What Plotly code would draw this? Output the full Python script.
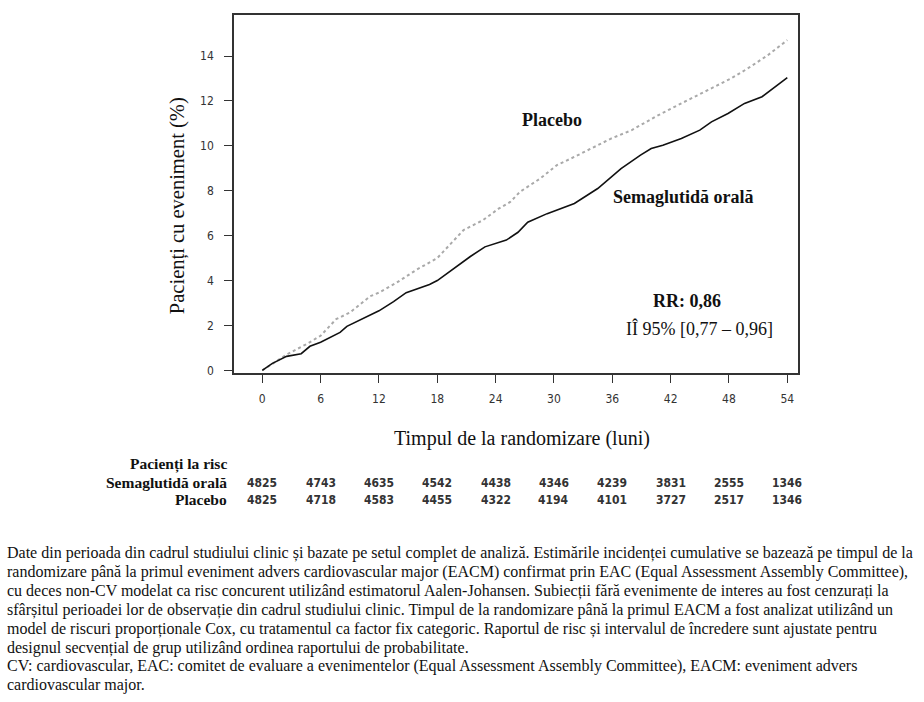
import plotly.graph_objects as go

# ---- data ----
sema_months = [0, 1, 2.5, 4, 4.9, 6, 8, 8.7, 12, 13.5, 14.8, 17.2, 18, 19.3, 21.4, 22.9, 24, 25.1,
               26.3, 27.3, 29.3, 32.1, 34.5, 36.9, 38.9, 40.0, 41.2, 43.1, 45.0, 46.2, 47.9, 49.6,
               51.4, 52.7, 54.0]
sema_pct = [0, 0.3, 0.62, 0.74, 1.07, 1.25, 1.69, 1.96, 2.65, 3.06, 3.46, 3.82, 4.0, 4.41, 5.07, 5.5,
            5.66, 5.8, 6.15, 6.6, 6.98, 7.43, 8.1, 8.99, 9.59, 9.88, 10.03, 10.33, 10.7, 11.07, 11.44,
            11.89, 12.19, 12.63, 13.04]
plac_months = [0, 2.5, 4.6, 6, 7.6, 9, 11.1, 12, 13.8, 15.9, 18, 19.3, 20.7, 22.7, 24.3, 25.5, 26.5,
               28.6, 30.3, 32.1, 33.8, 35.9, 38.0, 40.4, 42.4, 44.5, 46.5, 48.2, 49.9, 52.0, 54.0]
plac_pct = [0, 0.7, 1.18, 1.54, 2.28, 2.57, 3.3, 3.46, 3.9, 4.49, 5.0, 5.59, 6.25, 6.69, 7.2, 7.5,
            7.95, 8.55, 9.14, 9.51, 9.88, 10.33, 10.7, 11.29, 11.74, 12.19, 12.63, 13.0, 13.44, 14.04,
            14.71]

tick_months = [0, 6, 12, 18, 24, 30, 36, 42, 48, 54]
y_ticks = [0, 2, 4, 6, 8, 10, 12, 14]
risk_sema = [4825, 4743, 4635, 4542, 4438, 4346, 4239, 3831, 2555, 1346]
risk_plac = [4825, 4718, 4583, 4455, 4322, 4194, 4101, 3727, 2517, 1346]

footnote_lines = [
    "Date din perioada din cadrul studiului clinic și bazate pe setul complet de analiză. Estimările incidenței cumulative se bazează pe timpul de la",
    "randomizare până la primul eveniment advers cardiovascular major (EACM) confirmat prin EAC (Equal Assessment Assembly Committee),",
    "cu deces non-CV modelat ca risc concurent utilizând estimatorul Aalen-Johansen. Subiecții fără evenimente de interes au fost cenzurați la",
    "sfârșitul perioadei lor de observație din cadrul studiului clinic. Timpul de la randomizare până la primul EACM a fost analizat utilizând un",
    "model de riscuri proporționale Cox, cu tratamentul ca factor fix categoric. Raportul de risc și intervalul de încredere sunt ajustate pentru",
    "designul secvențial de grup utilizând ordinea raportului de probabilitate.",
    "CV: cardiovascular, EAC: comitet de evaluare a evenimentelor (Equal Assessment Assembly Committee), EACM: eveniment advers",
    "cardiovascular major.",
]

# ---- layout geometry (pixels) ----
W_FIG, H_FIG = 924, 702
L, R, T, B = 234, 798, 15, 372.7
PW, PH = R - L, B - T


def px(xp):
    return (xp - L) / PW


def py(yp):
    return (B - yp) / PH


SERIF = "Liberation Serif, Times New Roman, serif"
NARROW = "Liberation Sans Narrow, DejaVu Sans Condensed, Arial Narrow, sans-serif"

fig = go.Figure()
fig.add_trace(go.Scatter(x=plac_months, y=plac_pct, mode="lines",
                         line=dict(color="#a9a9a9", width=2, dash="dot"), showlegend=False))
fig.add_trace(go.Scatter(x=sema_months, y=sema_pct, mode="lines",
                         line=dict(color="#111111", width=1.6), showlegend=False))


def note(text, xp, yp, size, anchor="center", angle=0, family=SERIF, color="#111"):
    return dict(text=text, x=px(xp), y=py(yp), xref="paper", yref="paper", xanchor=anchor,
                yanchor="middle", textangle=angle, showarrow=False,
                font=dict(family=family, size=size, color=color))


ann = []
ann.append(note("<b>Placebo</b>", 552, 120, 18))
ann.append(note("<b>Semaglutidă orală</b>", 683, 197, 18))
ann.append(note("<b>RR: 0,86</b>", 687, 301, 18))
ann.append(note("IÎ 95% [0,77 – 0,96]", 699, 328, 18))
# axis titles
ann.append(note("Pacienți cu eveniment (%)", 177, 206, 20.5, angle=-90))
ann.append(note("Timpul de la randomizare (luni)", 522, 438, 20))
# risk table
for lbl, yp in [("Pacienți la risc", 464), ("Semaglutidă orală", 482), ("Placebo", 499)]:
    ann.append(note("<b>" + lbl + "</b>", 229, yp, 15.5, anchor="right"))
for m, a, b in zip(tick_months, risk_sema, risk_plac):
    ann.append(dict(text="<b>%d</b>" % a, x=m, y=py(482.5), xref="x", yref="paper", showarrow=False,
                    xanchor="center", yanchor="middle",
                    font=dict(family=NARROW, size=12, color="#333")))
    ann.append(dict(text="<b>%d</b>" % b, x=m, y=py(500), xref="x", yref="paper", showarrow=False,
                    xanchor="center", yanchor="middle",
                    font=dict(family=NARROW, size=12, color="#333")))
# footnote
for i, line in enumerate(footnote_lines):
    ann.append(note(line, 5, 553 + i * 18.8, 16, anchor="left"))

axis_common = dict(showgrid=False, zeroline=False, showline=True, linecolor="#333", linewidth=1.5,
                   mirror=True, ticks="outside", tickcolor="#333", tickwidth=1.3,
                   tickfont=dict(family=NARROW, size=12, color="#333"))
fig.update_layout(
    width=W_FIG, height=H_FIG, paper_bgcolor="white", plot_bgcolor="white",
    margin=dict(l=L, r=W_FIG - R, t=T, b=H_FIG - B, autoexpand=False),
    xaxis=dict(range=[-2.91, 55.1], tickvals=tick_months, ticklen=8, ticklabelstandoff=6, **axis_common),
    yaxis=dict(range=[-0.12, 15.83], tickvals=y_ticks, ticklen=8, ticklabelstandoff=8, **axis_common),
    annotations=ann,
)
fig.write_html("out.html")
